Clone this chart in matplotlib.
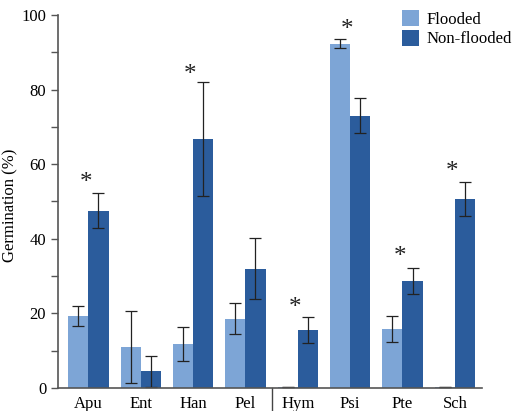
import numpy as np
import matplotlib.pyplot as plt

plt.rcParams['font.family'] = ['Liberation Serif', 'DejaVu Serif']

# Datos
especies = ['Apu', 'Ent', 'Han', 'Pel', 'Hym', 'Psi', 'Pte', 'Sch']
inundado = [19.3, 11.0, 11.8, 18.6, 0.3, 92.3, 15.7, 0.3]
inundado_err = [2.7, 9.7, 4.5, 4.1, 0.0, 1.2, 3.5, 0.0]
no_inundado = [47.5, 4.5, 66.7, 32.0, 15.6, 73.0, 28.7, 50.6]
no_inundado_err = [4.7, 4.2, 15.3, 8.2, 3.5, 4.7, 3.6, 4.6]
# asteriscos (altura en %) por especie, None = sin diferencia
asteriscos = [55, None, 84, None, 21.5, 96, 35, 58]

color_inund = '#7da5d6'
color_no = '#2b5c9c'

fig = plt.figure(figsize=(5.2, 4.11), dpi=100)
ax = fig.add_axes([0.1115, 0.056, 0.8155, 0.9075])

x = np.arange(len(especies))
w = 0.385
err_kw = dict(ecolor='#222222', elinewidth=0.9, capsize=4, capthick=0.9)
ax.bar(x - w / 2, inundado, w, yerr=inundado_err, color=color_inund,
       label='Flooded', error_kw=err_kw)
ax.bar(x + w / 2, no_inundado, w, yerr=no_inundado_err, color=color_no,
       label='Non-flooded', error_kw=err_kw)

for i, h in enumerate(asteriscos):
    if h is not None:
        ax.text(x[i] - 0.05, h, '*', ha='center', va='center', fontsize=18,
                color='#222222')

ax.set_xlim(-0.58, 7.52)
ax.set_ylim(0, 100)
ax.set_xticks(x)
ax.set_xticklabels(especies, fontsize=12)
ax.tick_params(axis='x', length=0, pad=6)
ax.set_yticks(np.arange(0, 101, 20))
ax.set_yticks(np.arange(10, 100, 20), minor=True)
ax.tick_params(axis='y', labelsize=12, length=5, width=1, color='#555555')
ax.tick_params(axis='y', which='minor', length=5, width=1, color='#555555')
ax.set_ylabel('Germination (%)', fontsize=12)
ax.yaxis.set_label_coords(-0.094, 0.49)

for s in ['top', 'right']:
    ax.spines[s].set_visible(False)
for s in ['left', 'bottom']:
    ax.spines[s].set_color('#555555')
    ax.spines[s].set_linewidth(1.2)

# separador entre grupos
ax.plot([3.5, 3.5], [0, -0.062], transform=ax.get_xaxis_transform(),
        color='#444444', lw=1, clip_on=False)

ax.legend(loc='upper left', bbox_to_anchor=(0.8, 1.027), frameon=False,
          fontsize=12, handlelength=1.0, handleheight=1.1, handletextpad=0.45,
          labelspacing=0.12, borderaxespad=0, borderpad=0.3)

plt.savefig('out.png', dpi=100)
